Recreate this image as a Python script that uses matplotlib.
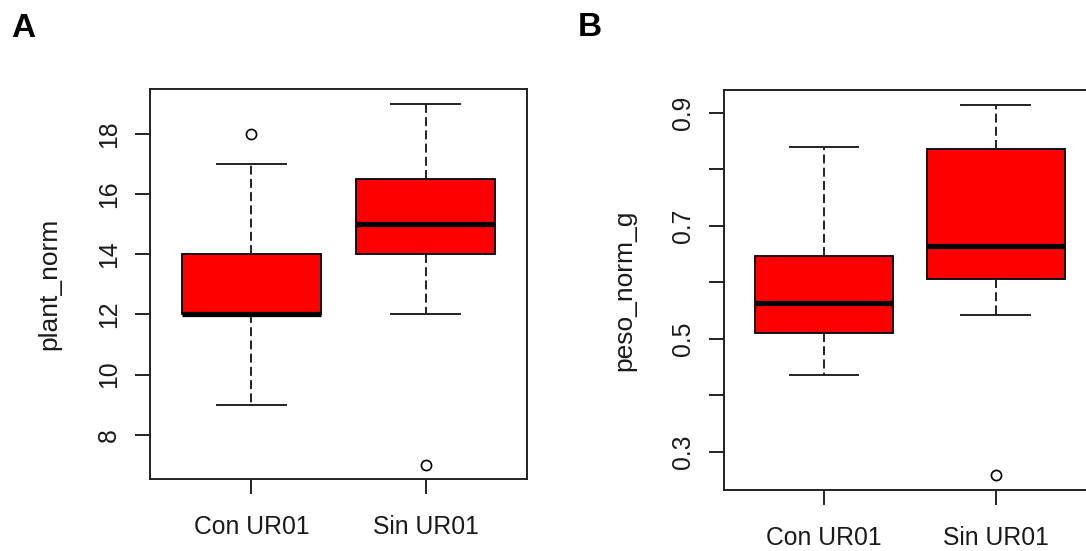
import matplotlib
matplotlib.use("Agg")
import matplotlib.pyplot as plt

plt.rcParams['font.family'] = ['Liberation Sans', 'DejaVu Sans']

# datos (resumen de cinco numeros + atipicos)
groups = ["Con UR01", "Sin UR01"]

plant_q1 = [12, 14]
plant_med = [12, 15]
plant_q3 = [14, 16.5]
plant_whislo = [9, 12]
plant_whishi = [17, 19]
plant_fliers = [[18], [7]]
plant_ticks = [8, 10, 12, 14, 16, 18]
plant_ticklabels = ["8", "10", "12", "14", "16", "18"]

peso_q1 = [0.510, 0.606]
peso_med = [0.564, 0.664]
peso_q3 = [0.646, 0.836]
peso_whislo = [0.437, 0.543]
peso_whishi = [0.840, 0.914]
peso_fliers = [[], [0.259]]
peso_ticks = [0.3, 0.4, 0.5, 0.6, 0.7, 0.8, 0.9]
peso_ticklabels = ["0.3", "", "0.5", "", "0.7", "", "0.9"]


def make_stats(q1, med, q3, lo, hi, fliers):
    stats = []
    for i, g in enumerate(groups):
        stats.append(dict(label=g, q1=q1[i], med=med[i], q3=q3[i],
                          whislo=lo[i], whishi=hi[i], fliers=fliers[i]))
    return stats


def draw_panel(ax, stats, ticks, ticklabels, ylabel):
    ax.bxp(stats, positions=[1, 2], widths=0.8, capwidths=0.4,
           patch_artist=True,
           boxprops=dict(facecolor='#ff0000', edgecolor='black', linewidth=1.3),
           medianprops=dict(color='black', linewidth=3.8, solid_capstyle='butt'),
           whiskerprops=dict(color='#222222', linewidth=1.4, linestyle=(0, (4.6, 2.2))),
           capprops=dict(color='#222222', linewidth=1.4),
           flierprops=dict(marker='o', markerfacecolor='white', markeredgecolor='black',
                           markersize=7.3, markeredgewidth=1.2))
    # limites como en R: rango de los datos +4%
    lo = min([s['whislo'] for s in stats] + [f for s in stats for f in s['fliers']])
    hi = max([s['whishi'] for s in stats] + [f for s in stats for f in s['fliers']])
    d = (hi - lo) * 0.04
    ax.set_ylim(lo - d, hi + d)
    ax.set_xlim(0.5 - 0.08, len(stats) + 0.5 + 0.08)

    ax.set_yticks(ticks)
    ax.set_yticklabels(ticklabels, rotation=90, va='center')
    ax.set_xticks([1, 2])
    ax.set_xticklabels(groups)
    ax.tick_params(axis='both', length=10.8, width=1.4, color='#222222',
                   labelsize=17.8, labelcolor='#1a1a1a')
    ax.tick_params(axis='y', pad=10.5)
    ax.tick_params(axis='x', pad=15)
    for sp in ax.spines.values():
        sp.set_linewidth(1.4)
        sp.set_color('#222222')
    ax.set_ylabel(ylabel, fontsize=19, color='#1a1a1a')
    ax.yaxis.set_label_coords(-0.236, 0.5)


fig = plt.figure(figsize=(10.86, 5.51), dpi=100)
ax1 = fig.add_axes([0.1384, 0.1301, 0.3466, 0.7078])
ax2 = fig.add_axes([0.6669, 0.1107, 0.3419, 0.7260])

draw_panel(ax1, make_stats(plant_q1, plant_med, plant_q3, plant_whislo, plant_whishi, plant_fliers),
           plant_ticks, plant_ticklabels, "plant_norm")
draw_panel(ax2, make_stats(peso_q1, peso_med, peso_q3, peso_whislo, peso_whishi, peso_fliers),
           peso_ticks, peso_ticklabels, "peso_norm_g")

fig.text(11 / 1086, 1 - 37 / 551, "A", fontsize=24, fontweight='bold', ha='left', va='baseline')
fig.text(578 / 1086, 1 - 36 / 551, "B", fontsize=24, fontweight='bold', ha='left', va='baseline')

fig.savefig("out.png", dpi=100)
